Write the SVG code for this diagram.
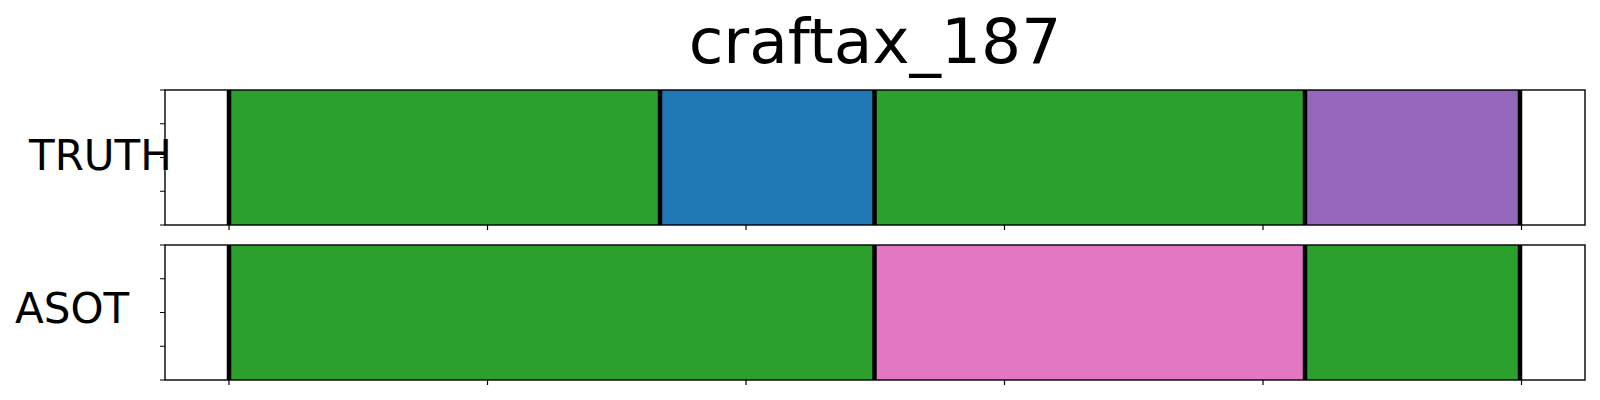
<svg xmlns="http://www.w3.org/2000/svg" width="1600" height="400" viewBox="0 0 1600 400">
<style>
.t{font-family:"DejaVu Sans","Liberation Sans",sans-serif;fill:#000}
.sp{fill:none;stroke:#000;stroke-width:1.4}
.tk{stroke:#000;stroke-width:1.2}
.b{stroke:#000;stroke-width:4.5}
.g{fill:#2ca02c}.bl{fill:#1f77b4}.pu{fill:#9467bd}.pk{fill:#e377c2}
</style>
<rect width="1600" height="400" fill="#fff"/>
<text class="t" x="875" y="63" font-size="63" text-anchor="middle">craftax_187</text>
<g id="truth">
<rect class="g" x="229" y="90" width="431" height="135"/>
<rect class="bl" x="660" y="90" width="214.5" height="135"/>
<rect class="g" x="874.5" y="90" width="430.5" height="135"/>
<rect class="pu" x="1305" y="90" width="215" height="135"/>
<line class="b" x1="229" y1="90" x2="229" y2="225"/>
<line class="b" x1="660" y1="90" x2="660" y2="225"/>
<line class="b" x1="874.5" y1="90" x2="874.5" y2="225"/>
<line class="b" x1="1305" y1="90" x2="1305" y2="225"/>
<line class="b" x1="1520" y1="90" x2="1520" y2="225"/>
<rect class="sp" x="165" y="90" width="1420" height="135"/>
<path class="tk" d="M160,90H165M160,123.75H165M160,157.5H165M160,191.25H165M160,225H165M229,225V230M487.5,225V230M746,225V230M1004.5,225V230M1263,225V230M1521.5,225V230"/>
<text class="t" x="29" y="170" font-size="42">TRUTH</text>
</g>
<g id="asot">
<rect class="g" x="229" y="245" width="645.5" height="135"/>
<rect class="pk" x="874.5" y="245" width="430.5" height="135"/>
<rect class="g" x="1305" y="245" width="215" height="135"/>
<line class="b" x1="229" y1="245" x2="229" y2="380"/>
<line class="b" x1="874.5" y1="245" x2="874.5" y2="380"/>
<line class="b" x1="1305" y1="245" x2="1305" y2="380"/>
<line class="b" x1="1520" y1="245" x2="1520" y2="380"/>
<rect class="sp" x="165" y="245" width="1420" height="135"/>
<path class="tk" d="M160,245H165M160,278.75H165M160,312.5H165M160,346.25H165M160,380H165M229,380V385M487.5,380V385M746,380V385M1004.5,380V385M1263,380V385M1521.5,380V385"/>
<text class="t" x="15" y="322.5" font-size="42">ASOT</text>
</g>
<g id="connectors"/>
</svg>
